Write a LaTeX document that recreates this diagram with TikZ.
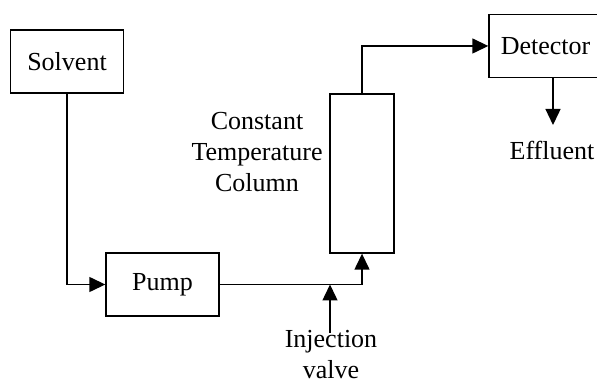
\documentclass[tikz,border=0pt]{standalone}
\usepackage{fontspec}
\setmainfont{Liberation Serif}
\usetikzlibrary{arrows.meta,positioning}

\begin{document}
\begin{tikzpicture}[x=0.5pt,y=-0.5pt,>={Triangle[length=8pt,width=7.5pt]},line width=0.7pt,
  lbl/.style={align=center,font=\fontsize{13}{15.5}\selectfont},
  blk/.style={draw,lbl,minimum width=56.5pt,minimum height=31.5pt}]
\useasboundingbox (0,0) rectangle (597,383);
\node[blk] (solvent) at (67,61.5) {Solvent};
\node[blk] (pump) at (162.5,284.5) {Pump};
\node[draw,minimum width=32pt,minimum height=79.5pt] (col) at (362,173.5) {};
\node[blk] (det) at (545.5,46) {Detector};
\node[lbl] (coltext) at (257,152) {Constant\\Temperature\\Column};
\node[lbl] (inj) at (331,355) {Injection\\valve};
\node[lbl] (eff) at (552,150) {Effluent};
\coordinate (injtail) at (330,333);
\coordinate (effhead) at (553,125);

\draw[->] (solvent) |- (pump);
\draw[->] (pump) -| (col);
\draw[->] (injtail) -- (injtail |- pump);
\draw[->] (col) |- (det);
\draw[->] (det.south -| effhead) -- (effhead);
\end{tikzpicture}
\end{document}
